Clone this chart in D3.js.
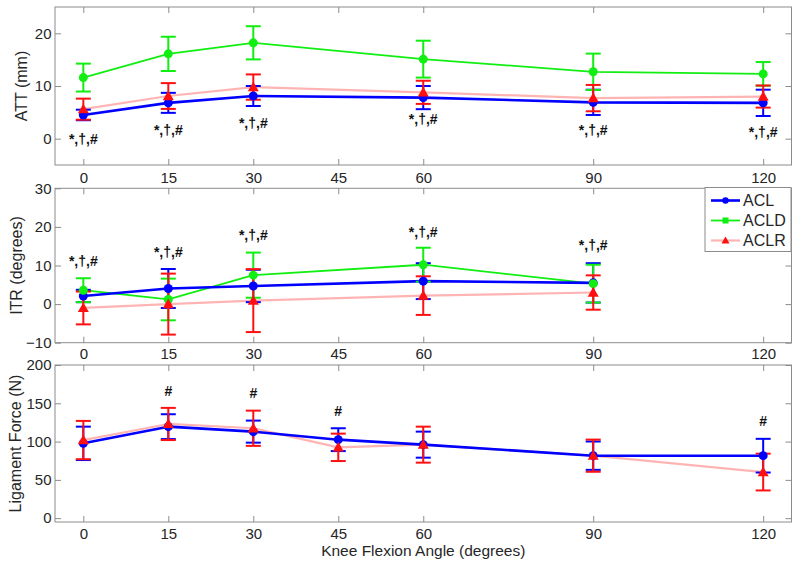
<!DOCTYPE html>
<html>
<head>
<meta charset="utf-8">
<script src="https://d3js.org/d3.v7.min.js"></script>
<style>
  html, body { margin: 0; padding: 0; background: #fff; }
  svg { display: block; font-family: "Liberation Sans", Arial, Helvetica, sans-serif; }
</style>
</head>
<body>
<svg id="chart" width="800" height="567"></svg>
<script>
// ---------------- DATA ----------------
const xTicks = [0, 15, 30, 45, 60, 90, 120];
const seriesNames = ["ACL", "ACLD", "ACLR"];

// Panel 1: ATT (mm)
const attAngles = [0, 15, 30, 60, 90, 120];
const attACL = [4.5, 6.8, 8.1, 7.8, 6.9, 6.8];
const attACLsd = [1.0, 1.9, 1.9, 2.2, 2.4, 2.5];
const attACLD = [11.6, 16.1, 18.2, 15.1, 12.7, 12.3];
const attACLDsd = [2.65, 3.25, 3.15, 3.5, 3.45, 2.25];
const attACLR = [5.6, 8.1, 9.8, 8.8, 7.7, 8.0];
const attACLRsd = [2.0, 2.45, 2.4, 2.2, 2.5, 2.1];
const attTicks = [0, 10, 20];
const attNoteAngles = [0, 15, 30, 60, 90, 120];
const attNoteValues = [0.0, 1.6, 3.0, 3.7, 1.6, 1.2];

// Panel 2: ITR (degrees)
const itrAngles = [0, 15, 30, 60, 90];
const itrACL = [2.1, 4.05, 4.7, 5.95, 5.5];
const itrACLsd = [1.6, 5.05, 4.2, 4.65, 5.1];
const itrACLD = [3.6, 1.2, 7.5, 10.2, 5.3];
const itrACLDsd = [3.1, 5.4, 5.85, 4.4, 4.9];
const itrACLR = [-1.0, 0.0, 0.9, 2.2, 3.0];
const itrACLRsd = [4.25, 7.9, 8.15, 5.0, 4.45];
const itrTicks = [-10, 0, 10, 20, 30];
const itrNoteAngles = [0, 15, 30, 60, 90];
const itrNoteValues = [11.2, 13.5, 17.8, 18.7, 15.2];

// Panel 3: Ligament Force (N)
const lfAngles = [0, 15, 30, 45, 60, 90, 120];
const lfACL = [97.7, 119.5, 113.0, 102.5, 96.0, 81.6, 81.6];
const lfACLsd = [21.8, 16.2, 14.4, 14.9, 17.0, 18.5, 22.0];
const lfACLR = [102.0, 123.0, 117.4, 92.5, 96.0, 81.6, 60.2];
const lfACLRsd = [25.0, 21.0, 23.0, 17.9, 23.5, 21.0, 24.0];
const lfTicks = [0, 50, 100, 150, 200];
const lfNoteAngles = [15, 30, 45, 120];
const lfNoteValues = [166, 164, 140, 127];

const noteFull = "*,\u2020,#";
const noteHash = "#";

// ---------------- STYLE ----------------
const colors = {
  ACL: { line: "#0000ff", bar: "#0000ff", marker: "#0000ff", lw: 2.6 },
  ACLD: { line: "#11ee11", bar: "#11ee11", marker: "#11ee11", lw: 1.8 },
  ACLR: { line: "#ffb4b4", bar: "#ff1010", marker: "#ff1010", lw: 2.2 }
};
const axisGray = "#8c8c8c";
const textColor = "#262626";

const svg = d3.select("#chart");
const x = d3.scaleLinear().domain([-5, 125]).range([55, 791.5]);

function mk(angles, vals, sds) {
  return angles.map((a, i) => ({ a, v: vals[i], sd: sds[i] }));
}

function panel(cfg) {
  const y = d3.scaleLinear().domain(cfg.domain).range([cfg.bottom, cfg.top]);
  const g = svg.append("g");
  const x0 = x.range()[0], x1 = x.range()[1];

  // box
  g.append("rect").attr("x", x0).attr("y", cfg.top)
    .attr("width", x1 - x0).attr("height", cfg.bottom - cfg.top)
    .attr("fill", "none").attr("stroke", axisGray).attr("stroke-width", 1);

  // axes (inward ticks)
  const tl = 6;
  const bottomAx = g.append("g").attr("transform", `translate(0,${cfg.bottom})`)
    .call(d3.axisBottom(x).tickValues(xTicks).tickSizeInner(-tl).tickSizeOuter(0).tickPadding(cfg.xPad));
  const topAx = g.append("g").attr("transform", `translate(0,${cfg.top})`)
    .call(d3.axisTop(x).tickValues(xTicks).tickSizeInner(-tl).tickSizeOuter(0).tickFormat(""));
  const leftAx = g.append("g").attr("transform", `translate(${x0},0)`)
    .call(d3.axisLeft(y).tickValues(cfg.ticks).tickSizeInner(-tl).tickSizeOuter(0).tickPadding(3.5));
  const rightAx = g.append("g").attr("transform", `translate(${x1},0)`)
    .call(d3.axisRight(y).tickValues(cfg.ticks).tickSizeInner(-tl).tickSizeOuter(0).tickFormat(""));
  [bottomAx, topAx, leftAx, rightAx].forEach(a => {
    a.select(".domain").remove();
    a.selectAll(".tick line").attr("stroke", axisGray);
    a.selectAll("text").attr("fill", textColor).style("font-size", "15px")
      .style("font-family", '"Liberation Sans", Arial, sans-serif');
  });

  // y label (rotated, baseline on the right side)
  g.append("text")
    .attr("transform", `translate(${cfg.ylabelX},${(cfg.top + cfg.bottom) / 2}) rotate(-90)`)
    .attr("text-anchor", "middle")
    .attr("fill", textColor).style("font-size", "16px").text(cfg.ylabel);

  const line = d3.line().x(d => x(d.a)).y(d => y(d.v));
  const drawOrderLines = ["ACLR", "ACLD", "ACL"].filter(s => cfg.series[s]);
  drawOrderLines.forEach(s => {
    g.append("path").datum(cfg.series[s]).attr("d", line)
      .attr("fill", "none").attr("stroke", colors[s].line).attr("stroke-width", colors[s].lw)
      .attr("stroke-linejoin", "round");
  });

  const capW = 7.5;
  seriesNames.filter(s => cfg.series[s]).forEach(s => {
    const c = colors[s].bar;
    const eb = g.append("g").attr("stroke", c).attr("stroke-width", 2).attr("fill", "none");
    cfg.series[s].forEach(d => {
      const xx = x(d.a), yt = y(d.v + d.sd), yb = y(d.v - d.sd);
      eb.append("line").attr("x1", xx).attr("x2", xx).attr("y1", yt).attr("y2", yb);
      eb.append("line").attr("x1", xx - capW).attr("x2", xx + capW).attr("y1", yt).attr("y2", yt);
      eb.append("line").attr("x1", xx - capW).attr("x2", xx + capW).attr("y1", yb).attr("y2", yb);
    });
  });

  seriesNames.filter(s => cfg.series[s]).forEach(s => {
    cfg.series[s].forEach(d => drawMarker(g, s, x(d.a), y(d.v)));
  });

  // annotations
  cfg.noteAngles.forEach((a, i) => {
    g.append("text").attr("x", x(a)).attr("y", y(cfg.noteValues[i]))
      .attr("text-anchor", "middle").attr("dominant-baseline", "central")
      .attr("fill", "#111").style("font-size", "14px").style("font-weight", "bold")
      .text(cfg.noteText);
  });
  return y;
}

function drawMarker(g, s, cx, cy, small) {
  const c = colors[s].marker;
  if (s === "ACL") {
    g.append("circle").attr("cx", cx).attr("cy", cy).attr("r", small ? 3.2 : 4.5).attr("fill", c);
  } else if (s === "ACLD") {
    if (small) g.append("rect").attr("x", cx - 3).attr("y", cy - 3).attr("width", 6).attr("height", 6).attr("fill", c);
    else g.append("circle").attr("cx", cx).attr("cy", cy).attr("r", 4.5).attr("fill", c);
  } else {
    const h = small ? 4 : 5.5;
    g.append("path").attr("d", `M${cx},${cy - h} L${cx + h},${cy + h * 0.75} L${cx - h},${cy + h * 0.75} Z`).attr("fill", c);
  }
}

panel({
  top: 7, bottom: 165, domain: [-5, 25], ticks: attTicks, ylabel: "ATT (mm)", ylabelX: 26.5, xPad: 7,
  series: { ACL: mk(attAngles, attACL, attACLsd), ACLD: mk(attAngles, attACLD, attACLDsd), ACLR: mk(attAngles, attACLR, attACLRsd) },
  noteAngles: attNoteAngles, noteValues: attNoteValues, noteText: noteFull
});
panel({
  top: 188.3, bottom: 342.7, domain: [-10, 30], ticks: itrTicks, ylabel: "ITR (degrees)", ylabelX: 22, xPad: 6,
  series: { ACL: mk(itrAngles, itrACL, itrACLsd), ACLD: mk(itrAngles, itrACLD, itrACLDsd), ACLR: mk(itrAngles, itrACLR, itrACLRsd) },
  noteAngles: itrNoteAngles, noteValues: itrNoteValues, noteText: noteFull
});
panel({
  top: 365, bottom: 522, domain: [-5, 200], ticks: lfTicks, ylabel: "Ligament Force (N)", ylabelX: 20.5, xPad: 6.5,
  series: { ACL: mk(lfAngles, lfACL, lfACLsd), ACLR: mk(lfAngles, lfACLR, lfACLRsd) },
  noteAngles: lfNoteAngles, noteValues: lfNoteValues, noteText: noteHash
});

// x-axis title
svg.append("text").attr("x", (x.range()[0] + x.range()[1]) / 2).attr("y", 556)
  .attr("text-anchor", "middle").attr("fill", textColor).style("font-size", "15.5px")
  .text("Knee Flexion Angle (degrees)");

// legend
const lg = svg.append("g");
lg.append("rect").attr("x", 705).attr("y", 187.5).attr("width", 86).attr("height", 64)
  .attr("fill", "#fff").attr("stroke", axisGray).attr("stroke-width", 1);
seriesNames.forEach((s, i) => {
  const yy = 200.5 + i * 20;
  lg.append("line").attr("x1", 711).attr("x2", 740).attr("y1", yy).attr("y2", yy)
    .attr("stroke", colors[s].line).attr("stroke-width", colors[s].lw);
  drawMarker(lg, s, 725.5, yy, true);
  lg.append("text").attr("x", 743).attr("y", yy).attr("dominant-baseline", "central")
    .attr("fill", textColor).style("font-size", "16px").text(s);
});
</script>
</body>
</html>
